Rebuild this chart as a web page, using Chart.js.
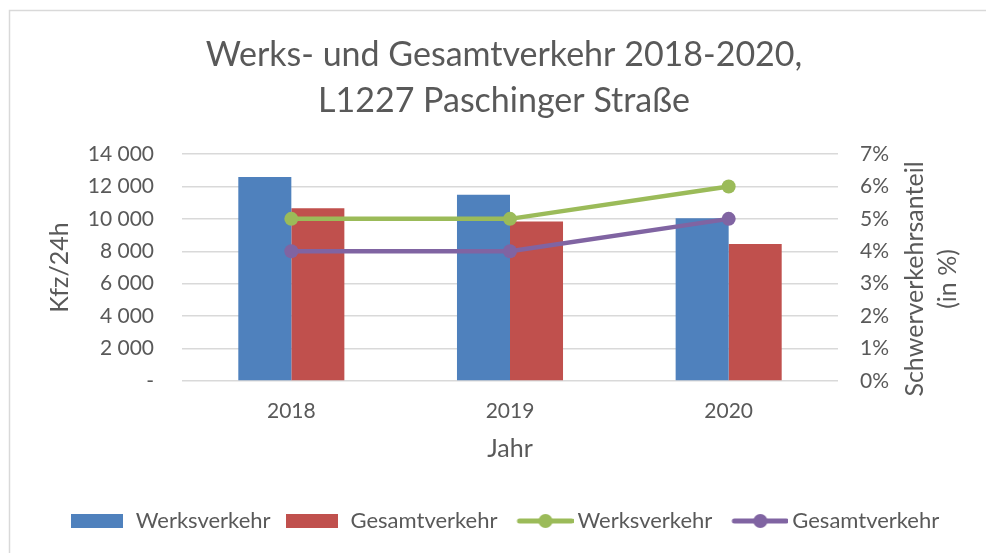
<!DOCTYPE html>
<html lang="de">
<head>
<meta charset="utf-8">
<title>Werks- und Gesamtverkehr 2018-2020</title>
<script src="https://cdn.jsdelivr.net/npm/chart.js@4.4.1/dist/chart.umd.min.js"></script>
<style>
  html, body { margin: 0; padding: 0; background: #fff; }
  #wrap { width: 986px; height: 553px; }
</style>
</head>
<body>
<div id="wrap"><canvas id="chart-verkehr" width="986" height="553"></canvas></div>
<script>
/* ─── Daten ─── */
const jahre = ['2018', '2019', '2020'];
const werksverkehrKfz = [12580, 11480, 10030];
const gesamtverkehrKfz = [10650, 9830, 8450];
const werksverkehrSV = [5, 5, 6];      // Schwerverkehrsanteil in %
const gesamtverkehrSV = [4, 4, 5];

const titelZeilen = ['Werks- und Gesamtverkehr 2018-2020,', 'L1227 Paschinger Straße'];
const titelY = 'Kfz/24h';
const titelY1 = ['Schwerverkehrsanteil', '(in %)'];
const titelX = 'Jahr';

const FARBEN = {
  blau: '#4F81BD',
  rot: '#C0504D',
  gruen: '#9BBB59',
  lila: '#8064A2',
  text: '#595959',
  grid: '#D9D9D9',
};
const FONT = 'Lato';

/* ─── Legenden-Symbole ─── */
function boxSymbol(farbe) {
  const c = document.createElement('canvas');
  c.width = 52; c.height = 14;
  const g = c.getContext('2d');
  g.fillStyle = farbe;
  g.fillRect(0, 0, 52, 14);
  return c;
}
function linieSymbol(farbe) {
  const c = document.createElement('canvas');
  c.width = 70; c.height = 16;
  const g = c.getContext('2d');
  g.strokeStyle = farbe;
  g.lineWidth = 5;
  g.lineCap = 'round';
  g.beginPath(); g.moveTo(16, 8); g.lineTo(68, 8); g.stroke();
  g.fillStyle = farbe;
  g.beginPath(); g.arc(42, 8, 7, 0, Math.PI * 2); g.fill();
  return c;
}

const tausender = v => v === 0 ? '-' : String(v).replace(/\B(?=(\d{3})+(?!\d))/g, ' ');

/* ─── Rahmen + rechter Achsentitel ─── */
const extras = {
  id: 'extras',
  beforeDraw(chart) {
    const ctx = chart.ctx;
    ctx.save();
    ctx.fillStyle = '#fff';
    ctx.fillRect(0, 0, chart.width, chart.height);
    ctx.strokeStyle = FARBEN.grid;
    ctx.lineWidth = 1.5;
    ctx.strokeRect(9.5, 10.5, 1000, 600);
    ctx.restore();
  },
  afterDraw(chart) {
    const ctx = chart.ctx;
    ctx.save();
    ctx.fillStyle = FARBEN.text;
    ctx.font = `25px ${FONT}`;
    ctx.textAlign = 'center';
    ctx.textBaseline = 'middle';
    [915, 948].forEach((x, i) => {
      ctx.save();
      ctx.translate(x, 279);
      ctx.rotate(-Math.PI / 2);
      ctx.fillText(titelY1[i], 0, 0);
      ctx.restore();
    });
    ctx.restore();
  }
};

new Chart(document.getElementById('chart-verkehr'), {
  type: 'bar',
  data: {
    labels: jahre,
    datasets: [
      {
        label: 'Werksverkehr',
        data: werksverkehrKfz,
        backgroundColor: FARBEN.blau,
        yAxisID: 'y',
        order: 2,
      },
      {
        label: 'Gesamtverkehr',
        data: gesamtverkehrKfz,
        backgroundColor: FARBEN.rot,
        yAxisID: 'y',
        order: 2,
      },
      {
        label: 'Werksverkehr',
        type: 'line',
        data: werksverkehrSV,
        borderColor: FARBEN.gruen,
        backgroundColor: FARBEN.gruen,
        borderWidth: 4.5,
        pointRadius: 7,
        pointBorderWidth: 0,
        yAxisID: 'y1',
        order: 0,
      },
      {
        label: 'Gesamtverkehr',
        type: 'line',
        data: gesamtverkehrSV,
        borderColor: FARBEN.lila,
        backgroundColor: FARBEN.lila,
        borderWidth: 4.5,
        pointRadius: 7,
        pointBorderWidth: 0,
        yAxisID: 'y1',
        order: 1,
      }
    ]
  },
  options: {
    responsive: false,
    animation: false,
    datasets: { bar: { categoryPercentage: 0.485, barPercentage: 1 } },
    layout: { padding: { left: 22, right: 0, top: 0, bottom: 11 } },
    plugins: {
      tooltip: { enabled: false },
      title: {
        display: true,
        text: titelZeilen,
        color: FARBEN.text,
        font: { family: FONT, size: 34, weight: 'normal', lineHeight: 1.353 },
        padding: { top: 32, bottom: 30 },
      },
      legend: {
        position: 'bottom',
        labels: {
          usePointStyle: true,
          pointStyleWidth: 56,
          padding: 13,
          color: FARBEN.text,
          font: { family: FONT, size: 22 },
          generateLabels: chart => chart.data.datasets.map((ds, i) => ({
            text: ds.label,
            pointStyle: ds.type === 'line' ? linieSymbol(ds.borderColor) : boxSymbol(ds.backgroundColor),
            fillStyle: ds.backgroundColor,
            strokeStyle: ds.backgroundColor,
            lineWidth: 0,
            hidden: false,
            datasetIndex: i,
            fontColor: FARBEN.text,
          })),
        }
      }
    },
    scales: {
      x: {
        grid: { display: false, drawTicks: false },
        border: { display: false },
        ticks: { color: FARBEN.text, font: { family: FONT, size: 21 }, padding: 18 },
        title: {
          display: true, text: titelX, color: FARBEN.text,
          font: { family: FONT, size: 25 }, padding: { top: 0, bottom: 33 },
        },
        afterFit: s => { s.height = 116; },
      },
      y: {
        position: 'left',
        min: 0, max: 14000,
        ticks: { stepSize: 2000, color: FARBEN.text, font: { family: FONT, size: 21 }, padding: 28, callback: tausender },
        grid: { color: FARBEN.grid, lineWidth: 1.5, drawTicks: false },
        border: { display: false },
        title: {
          display: true, text: titelY, color: FARBEN.text,
          font: { family: FONT, size: 25 }, padding: { top: 23, bottom: 0 },
        },
        afterFit: s => { s.width = 160; },
      },
      y1: {
        position: 'right',
        min: 0, max: 7,
        ticks: { stepSize: 1, color: FARBEN.text, font: { family: FONT, size: 21 }, padding: 22, callback: v => v + '%' },
        grid: { display: false, drawTicks: false },
        border: { display: false },
        afterFit: s => { s.width = 148; },
      }
    }
  },
  plugins: [extras]
});
</script>
</body>
</html>
